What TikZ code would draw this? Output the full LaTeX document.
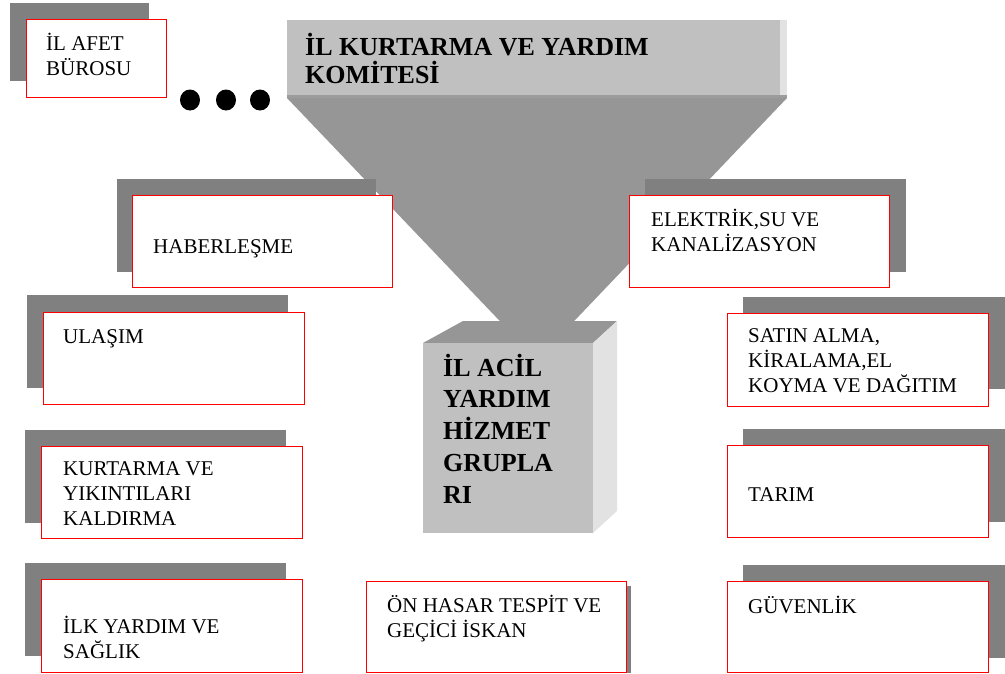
\documentclass[tikz,border=0pt]{standalone}
\usepackage{fontspec}
\setmainfont{Liberation Serif}
\definecolor{schattengrau}{HTML}{808080}
\definecolor{hellgrau}{HTML}{C0C0C0}
\definecolor{mittelgrau}{HTML}{969696}
\definecolor{seitengrau}{HTML}{E2E2E2}
\tikzset{
  schatten/.style={fill=schattengrau},
  kasten/.style={draw=red,line width=1pt,fill=white},
  schrift/.style={anchor=base west,inner sep=0pt,align=left,font=\fontsize{21}{25}\selectfont},
  titel/.style={anchor=base west,inner sep=0pt,align=left,font=\bfseries\fontsize{26}{28}\selectfont},
  wuerfeltext/.style={anchor=base west,inner sep=0pt,align=left,font=\bfseries\fontsize{26}{31.7}\selectfont}
}
\begin{document}
\begin{tikzpicture}[x=1pt,y=-1pt]
  \useasboundingbox (0,0) rectangle (1005,673);

  % Trichter und Komitee (Textposition = letzte Grundlinie)
  \fill[mittelgrau] (287,98) -- (787,98) -- (537,360) -- cycle;
  \fill[hellgrau] (287,20) rectangle (787,98);
  \fill[seitengrau] (780,20) rectangle (787,98);
  \fill[mittelgrau!85!hellgrau] (287,95) rectangle (787,98);
  \node[titel] (komite) at (305,83) {İL KURTARMA VE YARDIM\\KOMİTESİ};

  % Punkte
  \fill (190,100) ellipse (10 and 10.5);
  \fill (226,100) ellipse (10 and 10.5);
  \fill (260,100) ellipse (10 and 10.5);

  % Wuerfel
  \fill[mittelgrau] (423,343) -- (463,321) -- (617,321) -- (593,343) -- cycle;
  \fill[seitengrau] (593,343) -- (617,321) -- (617,511) -- (593,533) -- cycle;
  \fill[hellgrau] (423,343) rectangle (593,533);
  \node[wuerfeltext] (acil) at (443,503) {İL ACİL\\YARDIM\\HİZMET\\GRUPLA\\RI};

  % Kaesten links
  \fill[schatten] (10,3) rectangle (149,81);
  \draw[kasten] (26,19) rectangle (166,97);
  \node[schrift] (afet) at (46,75) {İL AFET\\BÜROSU};

  \fill[schatten] (117,179) rectangle (376,272);
  \draw[kasten] (132,195) rectangle (392,287);
  \node[schrift] (haber) at (153,253) {HABERLEŞME};

  \fill[schatten] (27,295) rectangle (288,388);
  \draw[kasten] (43,312) rectangle (304,404);
  \node[schrift] (ulasim) at (63,343) {ULAŞIM};

  \fill[schatten] (25,430) rectangle (286,523);
  \draw[kasten] (41,446) rectangle (302,538);
  \node[schrift] (kurtarma) at (63,525) {KURTARMA VE\\YIKINTILARI\\KALDIRMA};

  \fill[schatten] (25,563) rectangle (286,656);
  \draw[kasten] (41,579) rectangle (302,672);
  \node[schrift] (saglik) at (63,658) {İLK YARDIM VE\\SAĞLIK};

  % Kaesten rechts
  \fill[schatten] (645,179) rectangle (906,272);
  \draw[kasten] (629,195) rectangle (889,287);
  \node[schrift] (elektrik) at (651,251) {ELEKTRİK,SU VE\\KANALİZASYON};

  \fill[schatten] (743,297) rectangle (1005,389);
  \draw[kasten] (727,313) rectangle (988,406);
  \node[schrift] (satin) at (748,392) {SATIN ALMA,\\KİRALAMA,EL\\KOYMA VE DAĞITIM};

  \fill[schatten] (743,429) rectangle (1005,522);
  \draw[kasten] (727,445) rectangle (988,537);
  \node[schrift] (tarim) at (748,501) {TARIM};

  \fill[schatten] (743,565) rectangle (1005,658);
  \draw[kasten] (727,581) rectangle (988,672.5);
  \node[schrift] (guvenlik) at (748,613) {GÜVENLİK};

  % Kasten unten
  \fill[schatten] (382,586) rectangle (631,673);
  \draw[kasten] (366,581) rectangle (626,672);
  \node[schrift] (hasar) at (387,637) {ÖN HASAR TESPİT VE\\GEÇİCİ İSKAN};
\end{tikzpicture}
\end{document}
